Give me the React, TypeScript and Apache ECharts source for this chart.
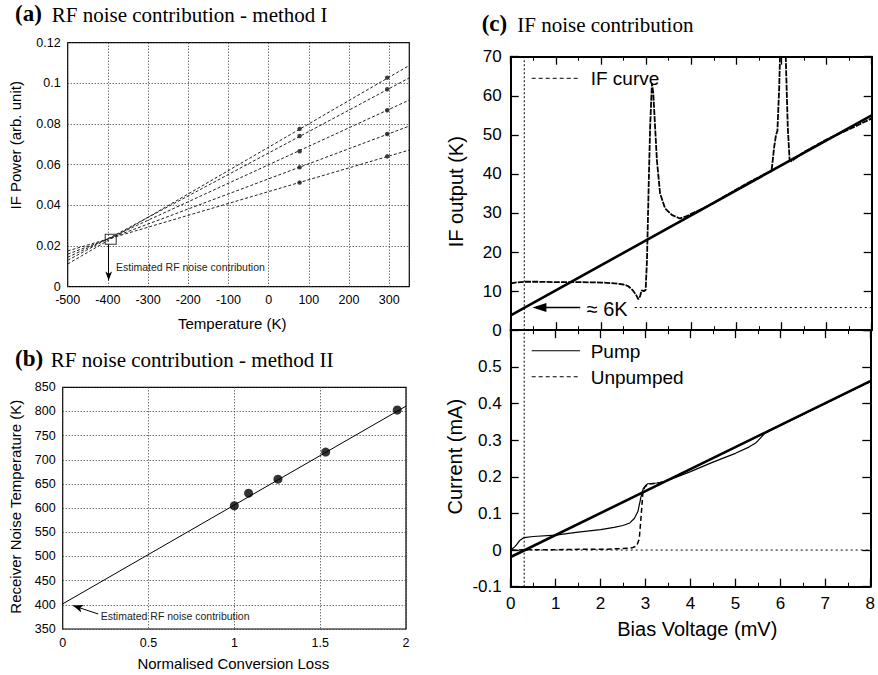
import React, { useEffect, useRef } from 'react';
import * as echarts from 'echarts';

const SANS = "'Liberation Sans', Arial, Helvetica, sans-serif";
const SERIF = "'Liberation Serif', 'Times New Roman', Times, serif";

// ---------- (a) RF noise contribution - method I ----------
const aTemps = [77, 295];
const aPower77 = [0.0776, 0.0741, 0.0666, 0.0587, 0.0512];
const aPower295 = [0.1028, 0.0971, 0.0868, 0.0751, 0.0641];
const aFitT = [-500, 350];
const aFitLeft = [0.0112, 0.013, 0.0145, 0.016, 0.0176];
const aFitRight = [0.1088, 0.1027, 0.0918, 0.079, 0.0672];
const aEstimate = [-393, 0.0233];
const aArrow = [[-398, 0.0205], [-398, 0.0031]];

// ---------- (b) RF noise contribution - method II ----------
const bLoss = [1.0, 1.083, 1.254, 1.532, 1.949];
const bTemp = [605, 631, 660, 716, 803];
const bFitLoss = [0, 2];
const bFitTemp = [402, 811];
const bArrow = [[0.207, 381], [0.06, 398.4]];

// ---------- (c) IF noise contribution (top) ----------
const ifBias = [0, 0.1, 0.3, 0.6, 1.0, 1.5, 2.0, 2.3, 2.5, 2.6, 2.7, 2.77, 2.83, 2.87, 2.9, 2.95, 2.99, 3.02, 3.06, 3.09, 3.13, 3.16, 3.2, 3.24, 3.31, 3.42, 3.57, 3.75, 3.9, 4.0, 4.2, 4.5, 4.7, 5.0, 5.3, 5.6, 5.78, 5.84, 5.88, 5.91, 5.95, 5.98, 6.02, 6.07, 6.1, 6.14, 6.18, 6.22, 6.5, 7.0, 7.5, 8.0];
const ifOutput = [12.0, 12.2, 12.4, 12.4, 12.3, 12.3, 12.2, 12.0, 11.7, 11.3, 10.3, 9.2, 7.9, 8.8, 10.2, 10.0, 10.3, 17.9, 38, 52, 63.2, 60.6, 52, 43.5, 35, 31.2, 29.5, 28.6, 29.2, 29.8, 30.8, 32.6, 34.0, 36.0, 38.0, 39.8, 40.7, 47, 50, 51, 62, 75, 85, 80, 68, 52, 43.7, 43.2, 45.6, 48.8, 51.4, 54.2];
const ifFitBias = [0, 8];
const ifFitOutput = [3.8, 55];
const markBias = 0.3;
const ifLevelBias = [2.75, 8];
const ifLevel = 5.8;
const ifArrow = [[1.54, 5.8], [0.635, 5.8]];

// ---------- (c) I-V curves (bottom) ----------
const pumpBias = [0, 0.1, 0.2, 0.3, 0.5, 1.0, 1.5, 2.0, 2.3, 2.5, 2.65, 2.75, 2.83, 2.9, 2.95, 3.0, 3.05, 3.25, 3.4, 3.6, 4.0, 4.5, 5.0, 5.3, 5.45, 5.55, 5.65, 6.0, 7.0, 8.0];
const pumpCurrent = [0, 0.01, 0.026, 0.034, 0.037, 0.041, 0.049, 0.056, 0.062, 0.067, 0.074, 0.086, 0.105, 0.146, 0.168, 0.176, 0.181, 0.183, 0.186, 0.195, 0.214, 0.24, 0.264, 0.281, 0.292, 0.305, 0.318, 0.34, 0.4, 0.46];
const unpumpedBias = [0, 0.5, 1.0, 1.5, 2.0, 2.5, 2.7, 2.8, 2.86, 2.9, 2.94, 2.98, 3.07, 3.3, 3.5, 4, 5, 6, 7, 8];
const unpumpedCurrent = [0, 0.001, 0.001, 0.002, 0.002, 0.004, 0.006, 0.011, 0.03, 0.09, 0.155, 0.172, 0.18, 0.183, 0.191, 0.221, 0.281, 0.341, 0.4, 0.46];
const ivFitBias = [0, 8];
const ivFitCurrent = [-0.019, 0.461];

const zip = (xs: number[], ys: number[]) => xs.map((x, i) => [x, ys[i]]);

const dotted = { type: [1, 2] as any, color: '#333', width: 1 };

function txt(text: string, x: number, y: number, size: number, opts: any = {}) {
  return {
    type: 'text',
    x,
    y,
    rotation: opts.rotation || 0,
    silent: true,
    style: {
      text,
      fontSize: size,
      fontFamily: opts.family || SANS,
      fontWeight: opts.weight || 'normal',
      fill: opts.fill || '#000',
      align: opts.align || 'left',
      textAlign: opts.align || 'left',
      verticalAlign: 'middle',
      textVerticalAlign: 'middle',
    },
  };
}

function seg(x1: number, y1: number, x2: number, y2: number, dash?: number[], w = 1) {
  return {
    type: 'line',
    silent: true,
    shape: { x1, y1, x2, y2 },
    style: { stroke: '#000', lineWidth: w, lineDash: dash || null },
  };
}

function cAxisX(gridIndex: number, position: string, labels: boolean) {
  return {
    type: 'value',
    gridIndex,
    position,
    min: 0,
    max: 8,
    interval: 1,
    axisLine: { show: true, onZero: false, lineStyle: { color: '#000', width: 2 } },
    axisTick: { show: true, inside: true, length: 8, lineStyle: { color: '#000', width: 1.3 } },
    minorTick: { show: true, splitNumber: 2, length: 4, lineStyle: { color: '#000', width: 1 } },
    splitLine: { show: false },
    axisLabel: { show: labels, fontSize: 17, margin: 8, color: '#000', fontFamily: SANS },
  };
}

function cAxisY(gridIndex: number, position: string, labels: boolean, min: number, max: number, interval: number, showMax: boolean) {
  return {
    type: 'value',
    gridIndex,
    position,
    min,
    max,
    interval,
    axisLine: { show: true, onZero: false, lineStyle: { color: '#000', width: 2 } },
    axisTick: { show: true, inside: true, length: 8, lineStyle: { color: '#000', width: 1.3 } },
    splitLine: { show: false },
    axisLabel: { show: labels, showMaxLabel: showMax, fontSize: 17, margin: 9, color: '#000', fontFamily: SANS },
  };
}

export default function App() {
  const ref = useRef<HTMLDivElement>(null);

  useEffect(() => {
    if (!ref.current) return;
    const chart = echarts.init(ref.current, null, { renderer: 'svg' });

    const aLineSeries = aFitLeft.map((l, i) => ({
      type: 'line',
      xAxisIndex: 0,
      yAxisIndex: 0,
      data: [[aFitT[0], l], [aFitT[1], aFitRight[i]]],
      showSymbol: false,
      silent: true,
      lineStyle: { color: '#222', width: 1, type: [3, 2] },
    }));

    const aPoints = [
      ...aPower77.map((p) => [aTemps[0], p]),
      ...aPower295.map((p) => [aTemps[1], p]),
    ];

    const option: any = {
      animation: false,
      backgroundColor: '#fff',
      grid: [
        { left: 67.7, top: 42.7, width: 341.6, height: 244, show: true, borderColor: '#000', borderWidth: 1.2, backgroundColor: 'transparent' },
        { left: 62.7, top: 387.3, width: 343.3, height: 241.7, show: true, borderColor: '#000', borderWidth: 1.2, backgroundColor: 'transparent' },
        { left: 510.7, top: 56.7, width: 361, height: 273.5 },
        { left: 510.7, top: 330.2, width: 361, height: 256.5 },
      ],
      xAxis: [
        {
          type: 'value', gridIndex: 0, min: -500, max: 350, interval: 100,
          axisLine: { show: false, onZero: false }, axisTick: { show: false },
          splitLine: { show: true, lineStyle: dotted },
          axisLabel: { showMaxLabel: false, margin: 7, fontSize: 12.5, color: '#000', fontFamily: SANS },
        },
        {
          type: 'value', gridIndex: 1, min: 0, max: 2, interval: 0.5,
          axisLine: { show: false, onZero: false }, axisTick: { show: false },
          splitLine: { show: true, lineStyle: dotted },
          axisLabel: { margin: 7, fontSize: 12.5, color: '#000', fontFamily: SANS },
        },
        cAxisX(2, 'bottom', false),
        cAxisX(2, 'top', false),
        cAxisX(3, 'bottom', true),
        cAxisX(3, 'top', false),
      ],
      yAxis: [
        {
          type: 'value', gridIndex: 0, min: 0, max: 0.12, interval: 0.02,
          axisLine: { show: false, onZero: false }, axisTick: { show: false },
          splitLine: { show: true, lineStyle: dotted },
          axisLabel: { margin: 7, fontSize: 12.5, color: '#000', fontFamily: SANS },
        },
        {
          type: 'value', gridIndex: 1, min: 350, max: 850, interval: 50,
          axisLine: { show: false, onZero: false }, axisTick: { show: false },
          splitLine: { show: true, lineStyle: dotted },
          axisLabel: { margin: 7, fontSize: 12.5, color: '#000', fontFamily: SANS },
        },
        cAxisY(2, 'left', true, 0, 70, 10, true),
        cAxisY(2, 'right', false, 0, 70, 10, true),
        cAxisY(3, 'left', true, -0.1, 0.6, 0.1, false),
        cAxisY(3, 'right', false, -0.1, 0.6, 0.1, false),
      ],
      series: [
        ...aLineSeries,
        {
          type: 'scatter', xAxisIndex: 0, yAxisIndex: 0, data: aPoints,
          symbolSize: 4.5, itemStyle: { color: '#111' }, silent: true,
        },
        {
          type: 'scatter', xAxisIndex: 0, yAxisIndex: 0, data: [aEstimate],
          symbol: 'rect', symbolSize: [11, 10], silent: true,
          itemStyle: { color: 'rgba(0,0,0,0)', borderColor: '#000', borderWidth: 1 },
          markLine: {
            silent: true, symbol: ['none', 'arrow'], symbolSize: [5, 9],
            label: { show: false }, lineStyle: { color: '#000', width: 1, type: 'solid' },
            data: [[{ coord: aArrow[0] }, { coord: aArrow[1] }]],
          },
        },
        // (b)
        {
          type: 'line', xAxisIndex: 1, yAxisIndex: 1, data: zip(bFitLoss, bFitTemp),
          showSymbol: false, silent: true, lineStyle: { color: '#000', width: 1 },
          markLine: {
            silent: true, symbol: ['none', 'arrow'], symbolSize: [6, 10],
            label: { show: false }, lineStyle: { color: '#000', width: 1, type: 'solid' },
            data: [[{ coord: bArrow[0] }, { coord: bArrow[1] }]],
          },
        },
        {
          type: 'scatter', xAxisIndex: 1, yAxisIndex: 1, data: zip(bLoss, bTemp),
          symbolSize: 9, itemStyle: { color: '#000' }, silent: true,
        },
        // (c) top
        {
          type: 'line', xAxisIndex: 2, yAxisIndex: 2, data: zip(ifFitBias, ifFitOutput),
          showSymbol: false, silent: true, lineStyle: { color: '#000', width: 2.6 },
        },
        {
          type: 'line', xAxisIndex: 2, yAxisIndex: 2, data: zip(ifBias, ifOutput),
          showSymbol: false, silent: true, clip: true,
          lineStyle: { color: '#000', width: 1.8, type: [6, 1.2] },
        },
        {
          type: 'line', xAxisIndex: 2, yAxisIndex: 2, data: [[markBias, 0], [markBias, 70]],
          showSymbol: false, silent: true, lineStyle: { color: '#000', width: 1, type: [2, 2] },
        },
        {
          type: 'line', xAxisIndex: 2, yAxisIndex: 2, data: [[ifLevelBias[0], ifLevel], [ifLevelBias[1], ifLevel]],
          showSymbol: false, silent: true, lineStyle: { color: '#000', width: 1, type: [2, 3] },
          markLine: {
            silent: true, symbol: ['none', 'triangle'], symbolSize: [9, 14],
            label: { show: false }, lineStyle: { color: '#000', width: 1.3, type: 'solid' },
            data: [[{ coord: ifArrow[0] }, { coord: ifArrow[1] }]],
          },
        },
        // (c) bottom
        {
          type: 'line', xAxisIndex: 4, yAxisIndex: 4, data: [[0, 0], [8, 0]],
          showSymbol: false, silent: true, lineStyle: { color: '#000', width: 1, type: [2, 3] },
        },
        {
          type: 'line', xAxisIndex: 4, yAxisIndex: 4, data: [[markBias, -0.1], [markBias, 0.6]],
          showSymbol: false, silent: true, lineStyle: { color: '#000', width: 1, type: [2, 2] },
        },
        {
          type: 'line', xAxisIndex: 4, yAxisIndex: 4, data: zip(ivFitBias, ivFitCurrent),
          showSymbol: false, silent: true, lineStyle: { color: '#000', width: 2.6 },
        },
        {
          type: 'line', xAxisIndex: 4, yAxisIndex: 4, data: zip(unpumpedBias, unpumpedCurrent),
          showSymbol: false, silent: true, lineStyle: { color: '#000', width: 1.5, type: [5, 3] },
        },
        {
          type: 'line', xAxisIndex: 4, yAxisIndex: 4, data: zip(pumpBias, pumpCurrent),
          showSymbol: false, silent: true, lineStyle: { color: '#000', width: 1.2 },
        },
      ],
      graphic: [
        // titles
        txt('(a)', 15, 13.9, 23, { family: SERIF, weight: 'bold' }),
        txt('RF noise contribution - method I', 51.7, 14.6, 21, { family: SERIF }),
        txt('(b)', 15, 358.9, 23, { family: SERIF, weight: 'bold' }),
        txt('RF noise contribution - method II', 50.7, 359.6, 21, { family: SERIF }),
        txt('(c)', 481.7, 23.9, 23, { family: SERIF, weight: 'bold' }),
        txt('IF noise contribution', 517.3, 24.6, 21, { family: SERIF }),
        // axis names
        txt('IF Power (arb. unit)', 15.8, 145.3, 15, { align: 'center', rotation: Math.PI / 2 }),
        txt('Temperature (K)', 232.2, 323.3, 15, { align: 'center' }),
        txt('Receiver Noise Temperature (K)', 15.5, 506.7, 15, { align: 'center', rotation: Math.PI / 2 }),
        txt('Normalised Conversion Loss', 233.3, 663.3, 15, { align: 'center' }),
        txt('IF output (K)', 456, 191.7, 20, { align: 'center', rotation: Math.PI / 2 }),
        txt('Current (mA)', 455, 456.7, 20, { align: 'center', rotation: Math.PI / 2 }),
        txt('Bias Voltage (mV)', 697.3, 629, 20, { align: 'center' }),
        // annotations
        txt('Estimated RF noise contribution', 116, 266.7, 10.5, { fill: '#222' }),
        txt('Estimated RF noise contribution', 100.7, 615.5, 10.5, { fill: '#222' }),
        txt('\u2248 6K', 586.7, 309, 20),
        // legends
        seg(531.7, 78.3, 580, 78.3, [4, 3], 1),
        txt('IF curve', 590.7, 78, 19),
        seg(531.7, 350.7, 580, 350.7, undefined, 1.1),
        txt('Pump', 590.7, 351.5, 19),
        seg(531.7, 376.7, 580, 376.7, [4, 3], 1.1),
        txt('Unpumped', 590.7, 377, 19),
      ],
    };

    chart.setOption(option);
    return () => chart.dispose();
  }, []);

  return (
    <div
      ref={ref}
      style={{ position: 'fixed', left: 0, top: 0, width: 878, height: 675, background: '#fff' }}
    />
  );
}
